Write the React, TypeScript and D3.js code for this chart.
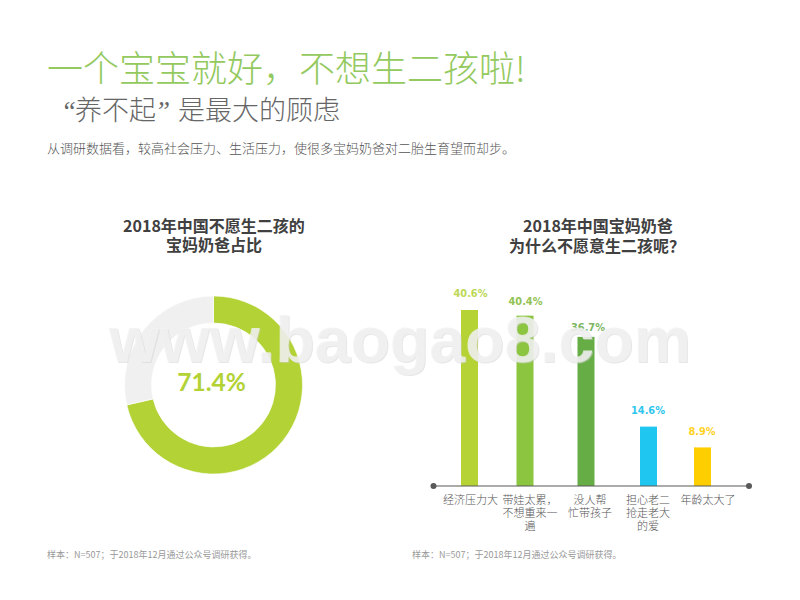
import React from "react";
import * as d3 from "d3";

const donutValues = [71.4, 28.6];
const donutColors = ["#b2d235", "#f0f0f0"];
const donutLabel = "71.4%";
const categories = ["a", "b", "c", "d", "e"];
const barHeights = [40.6, 39.3, 34.4, 13.7, 8.9];
const valueLabels = ["40.6%", "40.4%", "36.7%", "14.6%", "8.9%"];
const barColors = ["#b5d334", "#8cc540", "#66ad46", "#1fc6f0", "#ffce00"];
const labelColors = ["#bcd855", "#92c352", "#7cb65f", "#2fc6ee", "#ffd21f"];
const barCenters = [469.5, 525, 586, 648.5, 702.5];
const labelCenters = [470.5, 525.5, 588, 648, 702];
const labelTops = [293, 301, 327, 410, 431];
const catLabels = [
  ["经济压力大"],
  ["带娃太累，", "不想重来一", "遍"],
  ["没人帮", "忙带孩子"],
  ["担心老二", "抢走老大", "的爱"],
  ["年龄太大了"],
];
const catCenters = [470.5, 530, 590, 648, 708];

const CJK = "'Noto Sans CJK SC', sans-serif";
const axisY = 486;
const wm = "www.baogao8.com";

export default function App() {
  const y = d3.scaleLinear().domain([0, 40.6]).range([axisY, 310]);
  const pie = d3.pie<number>().sort(null)(donutValues);
  const arc = d3.arc<d3.PieArcDatum<number>>().innerRadius(62).outerRadius(89);
  return (
    <svg width={800} height={600} style={{ position: "absolute", left: 0, top: 0, display: "block", background: "#fff" }}>
      <text x={47} y={82} fontFamily={CJK} fontSize={36} fontWeight={300} fill="#93c95e">一个宝宝就好，不想生二孩啦!</text>
      <g fontFamily={CJK} fontSize={27} fontWeight={300} fill="#666">
        <text x={61} y={120} fontFamily="'Liberation Serif', serif" fontStyle="italic">“</text>
        <text x={75} y={120}>养不起</text>
        <text x={155} y={120} fontFamily="'Liberation Serif', serif" fontStyle="italic">”</text>
        <text x={178} y={120}>是最大的顾虑</text>
      </g>
      <text x={47} y={153} fontFamily={CJK} fontSize={13} fontWeight={300} fill="#555">从调研数据看，较高社会压力、生活压力，使很多宝妈奶爸对二胎生育望而却步。</text>

      <g fontFamily={CJK} fontSize={16} fontWeight={700} fill="#404040" textAnchor="middle">
        <text x={214} y={232}>2018年中国不愿生二孩的</text>
        <text x={214} y={251}>宝妈奶爸占比</text>
        <text x={598} y={232}>2018年中国宝妈奶爸</text>
        <text x={597} y={252}>为什么不愿意生二孩呢？</text>
      </g>

      <g transform="translate(213.5,385)">
        {pie.map((p, i) => (
          <path key={i} d={arc(p) as string} fill={donutColors[i]} stroke="#fff" strokeWidth={0.6} />
        ))}
        <text x={-2} y={6} textAnchor="middle" fontFamily="Lato, sans-serif" fontWeight={700} fontSize={24.5} fill="#b2d235">{donutLabel}</text>
      </g>

      {categories.map((c, i) => (
        <rect key={c} x={barCenters[i] - 8.5} width={17} y={y(barHeights[i])} height={axisY - y(barHeights[i])} fill={barColors[i]} />
      ))}
      <line x1={433} x2={749} y1={486} y2={486} stroke="#595959" strokeWidth={1.2} />
      <circle cx={433.5} cy={486} r={3} fill="#595959" />
      <circle cx={749} cy={486} r={3} fill="#595959" />
      {valueLabels.map((l, i) => (
        <text key={l} x={labelCenters[i]} y={labelTops[i] + 4} textAnchor="middle" fontFamily="'DejaVu Sans', sans-serif" fontWeight={700} fontSize={9.8} fill={labelColors[i]}>{l}</text>
      ))}
      {catLabels.map((lines, i) => (
        <text key={i} textAnchor="middle" fontFamily={CJK} fontSize={11} fontWeight={300} fill="#555">
          {lines.map((t, j) => (
            <tspan key={j} x={catCenters[i]} y={504 + j * 13}>{t}</tspan>
          ))}
        </text>
      ))}
      <text x={47} y={558} fontFamily={CJK} fontSize={9} fill="#999">样本：N=507；于2018年12月通过公众号调研获得。</text>
      <text x={412} y={558} fontFamily={CJK} fontSize={9} fill="#999">样本：N=507；于2018年12月通过公众号调研获得。</text>

      <g textAnchor="middle" fontFamily="'Liberation Sans', Arial, sans-serif" fontWeight={700} fontSize={64.5}>
        <text x={401} y={363} fill="#cfcfcf" fillOpacity={0.5}>{wm}</text>
        <text x={400} y={362} fill="#f1f1f1" fillOpacity={0.82}>{wm}</text>
      </g>
    </svg>
  );
}
